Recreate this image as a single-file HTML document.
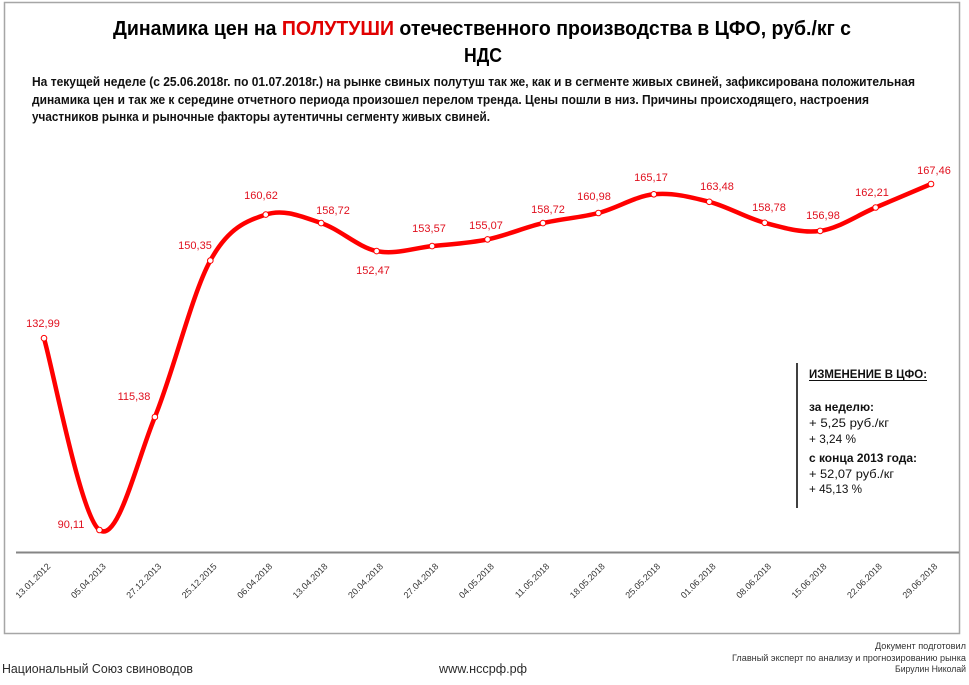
<!DOCTYPE html>
<html>
<head>
<meta charset="utf-8">
<style>
html,body{margin:0;padding:0;background:#fff;}
svg{display:block;}
text{font-family:"Liberation Sans","Noto Sans CJK SC",sans-serif;}
</style>
</head>
<body>
<svg width="969" height="685" viewBox="0 0 969 685" xmlns="http://www.w3.org/2000/svg">
<rect x="0" y="0" width="969" height="685" fill="#fff"/>
<!-- chart border -->
<rect x="4.5" y="2.5" width="955" height="631" fill="none" stroke="#a6a6a6" stroke-width="1.5"/>

<!-- title -->
<text x="113" y="35" font-size="20" font-weight="bold" fill="#000" textLength="738" lengthAdjust="spacingAndGlyphs">Динамика цен на <tspan fill="#e00000">ПОЛУТУШИ</tspan> отечественного производства в ЦФО, руб./кг с</text>
<text x="464" y="62" font-size="20" font-weight="bold" fill="#000" textLength="38" lengthAdjust="spacingAndGlyphs">НДС</text>

<!-- paragraph -->
<g font-size="13" font-weight="bold" fill="#111">
<text x="32" y="86" textLength="883" lengthAdjust="spacingAndGlyphs">На текущей неделе (с 25.06.2018г. по 01.07.2018г.)  на рынке свиных полутуш так же, как и в сегменте живых свиней, зафиксирована положительная</text>
<text x="32" y="104" textLength="837" lengthAdjust="spacingAndGlyphs">динамика цен и так же к середине отчетного периода произошел перелом тренда. Цены пошли в низ. Причины происходящего, настроения</text>
<text x="32" y="121" textLength="458" lengthAdjust="spacingAndGlyphs">участников рынка и рыночные факторы аутентичны сегменту живых свиней.</text>
</g>

<!-- x axis -->
<line x1="16" y1="552.5" x2="959" y2="552.5" stroke="#858585" stroke-width="2"/>

<!-- series line -->
<path d="M44,338.2 C53.24,370.17 80.96,516.87 99.44,530 C117.92,543.13 136.4,461.9 154.88,417 C173.36,372.1 191.84,294.33 210.32,260.6 C228.8,226.87 247.28,220.85 265.76,214.6 C284.24,208.35 302.72,217.02 321.2,223.1 C339.68,229.18 358.16,247.27 376.64,251.1 C395.12,254.93 413.6,248.05 432.08,246.1 C450.56,244.15 469.04,243.23 487.52,239.4 C506,235.57 524.48,227.5 542.96,223.1 C561.44,218.7 579.92,217.8 598.4,213 C616.88,208.2 635.36,196.17 653.84,194.3 C672.32,192.43 690.8,197.05 709.28,201.8 C727.76,206.55 746.24,217.95 764.72,222.8 C783.2,227.65 801.68,233.45 820.16,230.9 C838.64,228.35 857.12,215.32 875.6,207.5 C894.08,199.68 921.8,187.92 931.04,184" fill="none" stroke="#ff0000" stroke-width="4.5" stroke-linejoin="round" stroke-linecap="round"/>

<!-- markers -->
<g fill="#fff" stroke="#ff0000" stroke-width="1">
<circle cx="44" cy="338.2" r="2.8"/>
<circle cx="99.44" cy="530" r="2.8"/>
<circle cx="154.88" cy="417" r="2.8"/>
<circle cx="210.32" cy="260.6" r="2.8"/>
<circle cx="265.76" cy="214.6" r="2.8"/>
<circle cx="321.2" cy="223.1" r="2.8"/>
<circle cx="376.64" cy="251.1" r="2.8"/>
<circle cx="432.08" cy="246.1" r="2.8"/>
<circle cx="487.52" cy="239.4" r="2.8"/>
<circle cx="542.96" cy="223.1" r="2.8"/>
<circle cx="598.4" cy="213" r="2.8"/>
<circle cx="653.84" cy="194.3" r="2.8"/>
<circle cx="709.28" cy="201.8" r="2.8"/>
<circle cx="764.72" cy="222.8" r="2.8"/>
<circle cx="820.16" cy="230.9" r="2.8"/>
<circle cx="875.6" cy="207.5" r="2.8"/>
<circle cx="931.04" cy="184" r="2.8"/>
</g>

<!-- data labels -->
<g font-size="11" fill="#e0101e" text-anchor="middle">
<text x="43" y="327">132,99</text>
<text x="71" y="528">90,11</text>
<text x="134" y="400">115,38</text>
<text x="195" y="249">150,35</text>
<text x="261" y="199">160,62</text>
<text x="333" y="214">158,72</text>
<text x="373" y="274">152,47</text>
<text x="429" y="232">153,57</text>
<text x="486" y="229">155,07</text>
<text x="548" y="213">158,72</text>
<text x="594" y="200">160,98</text>
<text x="651" y="181">165,17</text>
<text x="717" y="190">163,48</text>
<text x="769" y="211">158,78</text>
<text x="823" y="219">156,98</text>
<text x="872" y="196">162,21</text>
<text x="934" y="174">167,46</text>
</g>

<!-- x tick labels -->
<g font-size="9" fill="#333" text-anchor="end">
<text x="51" y="567" transform="rotate(-45 51 567)">13.01.2012</text>
<text x="106.44" y="567" transform="rotate(-45 106.44 567)">05.04.2013</text>
<text x="161.88" y="567" transform="rotate(-45 161.88 567)">27.12.2013</text>
<text x="217.32" y="567" transform="rotate(-45 217.32 567)">25.12.2015</text>
<text x="272.76" y="567" transform="rotate(-45 272.76 567)">06.04.2018</text>
<text x="328.2" y="567" transform="rotate(-45 328.2 567)">13.04.2018</text>
<text x="383.64" y="567" transform="rotate(-45 383.64 567)">20.04.2018</text>
<text x="439.08" y="567" transform="rotate(-45 439.08 567)">27.04.2018</text>
<text x="494.52" y="567" transform="rotate(-45 494.52 567)">04.05.2018</text>
<text x="549.96" y="567" transform="rotate(-45 549.96 567)">11.05.2018</text>
<text x="605.4" y="567" transform="rotate(-45 605.4 567)">18.05.2018</text>
<text x="660.84" y="567" transform="rotate(-45 660.84 567)">25.05.2018</text>
<text x="716.28" y="567" transform="rotate(-45 716.28 567)">01.06.2018</text>
<text x="771.72" y="567" transform="rotate(-45 771.72 567)">08.06.2018</text>
<text x="827.16" y="567" transform="rotate(-45 827.16 567)">15.06.2018</text>
<text x="882.6" y="567" transform="rotate(-45 882.6 567)">22.06.2018</text>
<text x="938.04" y="567" transform="rotate(-45 938.04 567)">29.06.2018</text>
</g>

<!-- change box -->
<line x1="797" y1="363" x2="797" y2="508" stroke="#000" stroke-width="1.5"/>
<g font-size="12" fill="#111">
<text x="809" y="378" font-weight="bold" textLength="118" lengthAdjust="spacingAndGlyphs">ИЗМЕНЕНИЕ В ЦФО:</text>
<line x1="809" y1="380.5" x2="927" y2="380.5" stroke="#111" stroke-width="1"/>
<text x="809" y="411" font-weight="bold" textLength="65" lengthAdjust="spacingAndGlyphs">за неделю:</text>
<text x="809" y="427" textLength="80" lengthAdjust="spacingAndGlyphs">+ 5,25 руб./кг</text>
<text x="809" y="443" textLength="47" lengthAdjust="spacingAndGlyphs">+ 3,24 %</text>
<text x="809" y="462" font-weight="bold" textLength="108" lengthAdjust="spacingAndGlyphs">с конца 2013 года:</text>
<text x="809" y="478" textLength="85" lengthAdjust="spacingAndGlyphs">+ 52,07 руб./кг</text>
<text x="809" y="493" textLength="53" lengthAdjust="spacingAndGlyphs">+ 45,13 %</text>
</g>

<!-- footer -->
<g fill="#2a2a2a">
<text x="2" y="673" font-size="13" textLength="191" lengthAdjust="spacingAndGlyphs">Национальный Союз свиноводов</text>
<text x="439" y="673" font-size="13" textLength="88" lengthAdjust="spacingAndGlyphs">www.нсcрф.рф</text>
</g>
<g fill="#333" font-size="9" text-anchor="end">
<text x="966" y="649" textLength="91" lengthAdjust="spacingAndGlyphs">Документ подготовил</text>
<text x="966" y="661" textLength="234" lengthAdjust="spacingAndGlyphs">Главный эксперт по анализу и прогнозированию рынка</text>
<text x="966" y="672" textLength="71" lengthAdjust="spacingAndGlyphs">Бирулин Николай</text>
</g>
</svg>
</body>
</html>
